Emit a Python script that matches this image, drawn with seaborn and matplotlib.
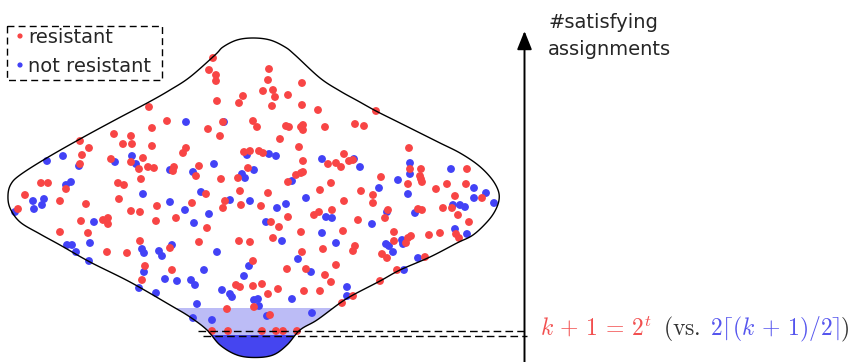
import numpy as np
import pandas as pd
import matplotlib
matplotlib.use("Agg")
import matplotlib.pyplot as plt
import seaborn as sns
from matplotlib.patches import Polygon, Rectangle

# ---------------- data (pixel-like coordinates, y grows downward) ----------------
red_x = [149, 167, 152, 114, 131, 80, 89, 123, 132, 152, 82, 111, 80, 131, 143, 139, 148, 154, 141, 41, 48, 118, 124, 66, 25,
         213, 209, 216, 216, 269, 268, 302, 273, 263, 275, 288, 243, 217, 239, 272, 302, 318, 223, 253, 257, 208, 220, 286,
         289, 303, 301, 303, 325, 280, 299, 186, 183, 244, 250, 259, 263, 303, 199, 174, 173, 196, 248, 221, 238, 296, 301,
         303, 288, 328, 336, 331, 320, 240, 268, 206,
         376, 355, 364, 409, 344, 349, 353, 341, 410, 421, 420, 421, 422, 408, 381, 467, 447, 466, 436, 361, 373, 455,
         60, 86, 119, 18, 131, 140, 157, 81, 103, 108, 108, 156, 60, 88, 140, 107, 127, 145, 142, 170,
         192, 225, 223, 241, 261, 176, 207, 271, 279, 288, 314, 319, 332, 199, 239, 250, 273, 301, 323, 302, 253, 172,
         287, 306, 325, 336, 331, 236, 240, 253, 262, 278, 268, 304, 320, 227, 254, 270, 212, 228, 262, 276, 283, 297,
         344, 373, 388, 385, 418, 422, 443, 452, 458, 482, 358, 469, 343, 394, 394, 411, 408, 406, 429, 440, 456, 459,
         355, 353, 382, 387, 425, 397, 380, 353, 342]
red_y = [107, 121, 128, 134, 136, 141, 148, 144, 144, 146, 155, 159, 164, 162, 158, 169, 167, 168, 179, 183, 183, 183, 185, 189, 195,
         58, 70, 75, 81, 69, 80, 83, 90, 91, 97, 95, 96, 101, 103, 106, 105, 110, 122, 121, 127, 129, 136, 126,
         127, 125, 127, 130, 127, 139, 147, 148, 153, 152, 151, 151, 153, 161, 166, 167, 171, 176, 168, 179, 178, 175, 173,
         172, 182, 164, 163, 183, 190, 191, 193, 194,
         111, 124, 126, 148, 154, 161, 160, 167, 169, 169, 176, 179, 182, 184, 177, 169, 184, 184, 189, 191, 195, 196,
         201, 204, 199, 209, 211, 212, 206, 221, 220, 218, 224, 221, 232, 233, 241, 252, 253, 266, 280, 248,
         203, 201, 208, 205, 206, 218, 228, 222, 227, 217, 215, 212, 210, 242, 241, 242, 238, 232, 249, 252, 261, 270,
         269, 269, 275, 265, 282, 285, 287, 286, 284, 289, 294, 291, 291, 309, 307, 315, 331, 331, 331, 331, 331, 331,
         201, 203, 210, 218, 209, 210, 208, 208, 215, 198, 220, 222, 231, 232, 241, 236, 238, 243, 235, 233, 234, 238,
         246, 251, 254, 258, 257, 270, 281, 296, 303]

blue_x = [47, 63, 79, 115, 132, 136, 71, 66, 143, 170,
          186, 224, 247, 269, 276, 214, 193, 242, 245, 254, 322, 292, 201,
          354, 360, 410, 410, 451, 398, 379, 474, 486, 408,
          33, 44, 42, 34, 15, 94, 67, 72, 76, 90, 89, 142, 144, 159, 162, 144, 165, 139, 156, 170,
          185, 230, 250, 306, 194, 209, 277, 286, 266, 326, 332, 322, 282, 336, 172, 217, 298, 249, 311, 204, 244, 177,
          191, 195, 222, 230, 232, 254, 258, 259, 292, 197, 267, 193, 212, 312,
          474, 494, 453, 460, 465, 387, 415, 372, 455, 467, 402, 403, 386, 389, 393, 418, 404, 347, 347]
blue_y = [161, 156, 166, 162, 156, 164, 182, 185, 194, 170,
          122, 122, 155, 154, 156, 164, 172, 174, 178, 170, 159, 181, 192,
          159, 167, 163, 174, 169, 180, 188, 188, 193, 194,
          201, 199, 205, 209, 212, 222, 245, 245, 252, 243, 261, 249, 253, 251, 256, 272, 279, 288, 293, 202,
          210, 200, 201, 198, 223, 214, 208, 204, 222, 217, 218, 233, 241, 243, 245, 252, 259, 266, 272, 270, 276, 281,
          280, 285, 290, 294, 297, 300, 299, 306, 299, 304, 316, 318, 320, 313,
          198, 203, 205, 205, 207, 212, 213, 224, 229, 234, 240, 244, 244, 246, 252, 258, 270, 287, 296]

categories = ["resistant", "not resistant"]
palette = {"resistant": "#f84545", "not resistant": "#4242f6"}

# outline of the distribution shape
outline_x = [253, 270, 285, 295, 320, 340, 358, 376, 398, 420, 440, 460, 478, 491, 498, 499, 495, 487, 473, 457, 430,
             400, 380, 353, 340, 317, 300, 287, 273, 255, 237, 220, 207, 190, 170, 130, 90, 60, 40, 20, 10, 8, 11, 20,
             45, 80, 115, 149, 170, 190, 215, 223, 237]
outline_y = [38, 40, 47, 55, 78, 91, 101, 111, 122, 133, 143, 153, 165, 178, 190, 200, 211, 222, 235, 243, 257,
             270, 281, 295, 303, 320, 330, 345, 355, 357.5, 355, 345, 330, 317, 305, 282, 262, 245, 234, 222, 208, 195,
             184, 175, 159, 139, 120, 102, 90, 77, 55, 47, 40]

band_light = (308, 362)
band_dark = (335, 362)
threshold_y = [331, 335.5]
threshold_x0 = [198, 203]

axis_label = ["#satisfying", "assignments"]
formula_parts = [r"$k\,+\,1\,=\,2^t$", r"$\mathrm{(vs.}$", r"$2\lceil(k\,+\,1)/2\rceil$", r"$)$"]
formula_colors = ["#f24f4f", "#333333", "#5555ee", "#333333"]
formula_gaps = [12, 9, 0, 0]

# ---------------- figure ----------------
sns.set_theme(style="white")
plt.rcParams["font.family"] = ["DejaVu Sans"]
plt.rcParams["mathtext.fontset"] = "cm"

fig = plt.figure(figsize=(8.51, 3.62), dpi=100)
ax = fig.add_axes([0, 0, 1, 1])
ax.set_xlim(0, 851)
ax.set_ylim(362, 0)
ax.axis("off")


def smooth_closed(px, py, n=16):
    P = np.column_stack([px, py]).astype(float)
    N = len(P)
    t = np.linspace(0, 1, n, endpoint=False)[:, None]
    out = []
    for i in range(N):
        p0, p1, p2, p3 = P[(i - 1) % N], P[i], P[(i + 1) % N], P[(i + 2) % N]
        out.append(0.5 * ((2 * p1) + (-p0 + p2) * t + (2 * p0 - 5 * p1 + 4 * p2 - p3) * t ** 2
                          + (-p0 + 3 * p1 - 3 * p2 + p3) * t ** 3))
    return np.vstack(out)


curve = smooth_closed(outline_x, outline_y)

# shaded bands inside the shape
for (y0, y1), col in [(band_light, "#bcbcf6"), (band_dark, "#4545f0")]:
    clip = Polygon(curve, closed=True, transform=ax.transData)
    fb = ax.fill_between([0, 851], y0, y1, color=col, lw=0, zorder=1)
    fb.set_clip_path(clip)

df = pd.concat([
    pd.DataFrame({"x": blue_x, "y": blue_y, "kind": "not resistant"}),
    pd.DataFrame({"x": red_x, "y": red_y, "kind": "resistant"}),
], ignore_index=True)
sns.scatterplot(data=df, x="x", y="y", hue="kind", palette=palette, s=32, linewidth=0,
                legend=False, ax=ax, zorder=3)
ax.set_xlim(0, 851)
ax.set_ylim(362, 0)

ax.add_patch(Polygon(curve, closed=True, fill=False, ec="black", lw=1.0, zorder=4))

# threshold dashed lines
for y, x0 in zip(threshold_y, threshold_x0):
    ax.plot([x0, 527], [y, y], color="black", lw=1.0, ls=(0, (5.5, 3.0)), zorder=5)

# vertical axis arrow
ax.annotate("", xy=(524.5, 31), xytext=(524.5, 362),
            arrowprops=dict(arrowstyle="-|>,head_length=0.45,head_width=0.18", mutation_scale=25,
                            lw=1.4, color="black", shrinkA=0, shrinkB=0), zorder=6)
ax.text(548, 28, axis_label[0], fontsize=14, va="baseline", ha="left")
ax.text(548, 55, axis_label[1], fontsize=14, va="baseline", ha="left")

# formula on the right
fig.canvas.draw()
renderer = fig.canvas.get_renderer()
x = 540
for part, col, gap in zip(formula_parts, formula_colors, formula_gaps):
    t = ax.text(x, 335, part, color=col, fontsize=17, va="baseline", ha="left")
    x += t.get_window_extent(renderer).width + gap

# legend (dashed box)
ax.add_patch(Rectangle((7, 26), 155, 54, fill=False, ec="black", lw=1.0, ls=(0, (5, 3)), zorder=6))
ax.scatter([20, 20], [36, 65], s=14, c=[palette[c] for c in categories], linewidths=0, zorder=6)
ax.text(28.3, 43, categories[0], fontsize=14, va="baseline")
ax.text(28.3, 72, categories[1], fontsize=14, va="baseline")

fig.savefig("out.png", dpi=100)
